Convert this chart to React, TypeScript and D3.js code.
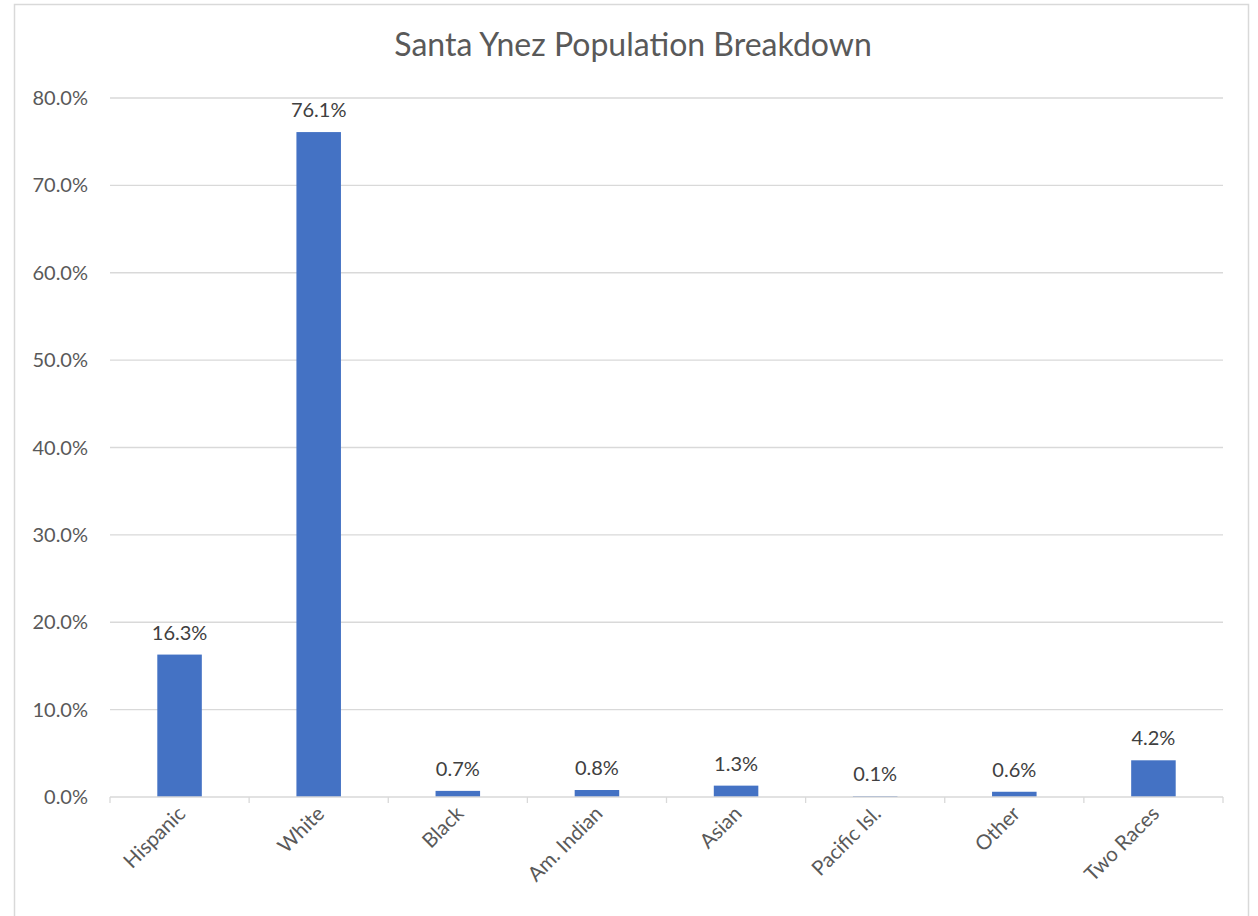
import * as d3 from "d3";
import { useEffect, useRef } from "react";

const categories = ["Hispanic", "White", "Black", "Am. Indian", "Asian", "Pacific Isl.", "Other", "Two Races"];
const shares = [16.3, 76.1, 0.7, 0.8, 1.3, 0.1, 0.6, 4.2];
const yTicks = [0, 10, 20, 30, 40, 50, 60, 70, 80];

const W = 1258;
const H = 916;

export default function App() {
  const ref = useRef<SVGSVGElement>(null);

  useEffect(() => {
    if (!ref.current) return;
    const svg = d3.select(ref.current);
    svg.selectAll("*").remove();

    const font = "Lato, 'Open Sans', sans-serif";
    const textColor = "#595959";
    const left = 110;
    const right = 1223;
    const top = 98;
    const bottom = 797;

    svg
      .append("rect")
      .attr("x", 14.5)
      .attr("y", 4.5)
      .attr("width", 1234)
      .attr("height", 940)
      .attr("fill", "#fff")
      .attr("stroke", "#d9d9d9")
      .attr("stroke-width", 1.5);

    svg
      .append("text")
      .attr("x", 633)
      .attr("y", 56)
      .attr("text-anchor", "middle")
      .attr("font-family", font)
      .attr("font-size", 32)
      .attr("fill", textColor)
      .text("Santa Ynez Population Breakdown");

    const x = d3.scaleBand().domain(categories).range([left, right]).paddingInner(0.68).paddingOuter(0.34);
    const band = d3.scaleBand().domain(categories).range([left, right]);
    const y = d3.scaleLinear().domain([0, 80]).range([bottom, top]);

    // gridlines
    svg
      .append("g")
      .selectAll("line")
      .data(yTicks.filter((t) => t > 0))
      .enter()
      .append("line")
      .attr("x1", left)
      .attr("x2", right)
      .attr("y1", (d) => y(d))
      .attr("y2", (d) => y(d))
      .attr("stroke", "#d9d9d9")
      .attr("stroke-width", 1.3);

    // y tick labels
    svg
      .append("g")
      .selectAll("text")
      .data(yTicks)
      .enter()
      .append("text")
      .attr("x", 88)
      .attr("y", (d) => y(d))
      .attr("dy", "0.35em")
      .attr("text-anchor", "end")
      .attr("font-family", font)
      .attr("font-size", 20)
      .attr("fill", textColor)
      .text((d) => d3.format(".1f")(d) + "%");

    // bars
    svg
      .append("g")
      .selectAll("rect")
      .data(categories)
      .enter()
      .append("rect")
      .attr("x", (d) => x(d)!)
      .attr("width", x.bandwidth())
      .attr("y", (d, i) => y(shares[i]))
      .attr("height", (d, i) => bottom - y(shares[i]))
      .attr("fill", "#4472c4");

    // baseline axis with ticks
    const axis = svg.append("g").attr("stroke", "#d9d9d9").attr("stroke-width", 1.3);
    axis.append("line").attr("x1", left).attr("x2", right).attr("y1", bottom).attr("y2", bottom);
    const edges = categories.map((c) => band(c)!).concat([right]);
    axis
      .selectAll("line.tick")
      .data(edges)
      .enter()
      .append("line")
      .attr("class", "tick")
      .attr("x1", (d) => d)
      .attr("x2", (d) => d)
      .attr("y1", bottom)
      .attr("y2", bottom + 6);

    // value labels
    svg
      .append("g")
      .selectAll("text")
      .data(categories)
      .enter()
      .append("text")
      .attr("x", (d) => x(d)! + x.bandwidth() / 2)
      .attr("y", (d, i) => y(shares[i]) - 15)
      .attr("text-anchor", "middle")
      .attr("font-family", font)
      .attr("font-size", 20)
      .attr("fill", "#404040")
      .text((d, i) => d3.format(".1f")(shares[i]) + "%");

    // category labels
    svg
      .append("g")
      .selectAll("text")
      .data(categories)
      .enter()
      .append("text")
      .attr("transform", (d) => `translate(${band(d)! + band.bandwidth() / 2 + 7},${bottom + 18}) rotate(-45)`)
      .attr("text-anchor", "end")
      .attr("font-family", font)
      .attr("font-size", 20.5)
      .attr("fill", textColor)
      .text((d) => d);
  }, []);

  return (
    <div style={{ position: "absolute", left: 0, top: 0 }}>
      <svg ref={ref} width={W} height={H} style={{ display: "block" }} />
    </div>
  );
}
